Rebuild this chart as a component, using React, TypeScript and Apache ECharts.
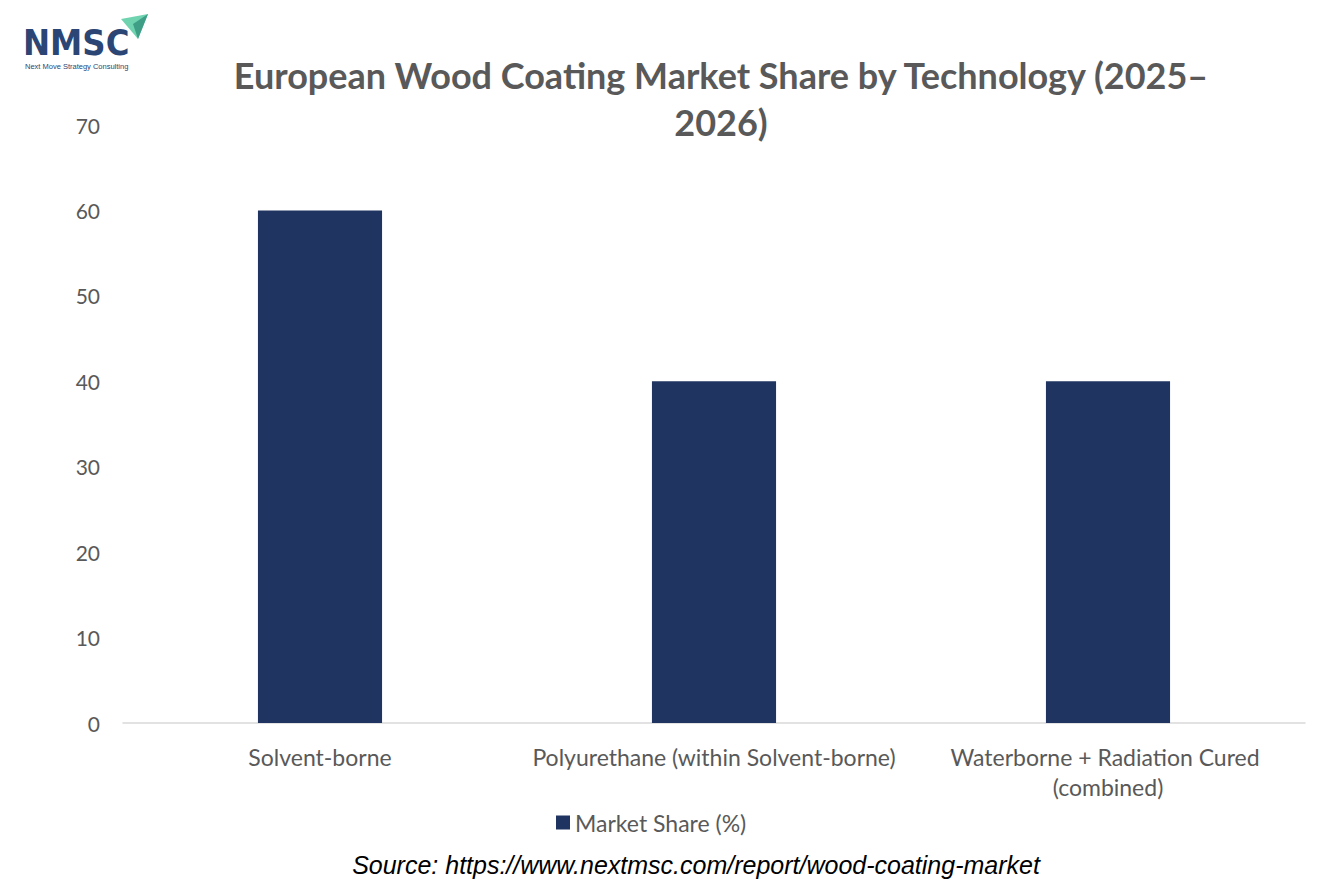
import React, { useEffect, useRef } from "react";
import * as echarts from "echarts";

const categories = [
  "Solvent-borne",
  "Polyurethane (within Solvent-borne)",
  "Waterborne + Radiation Cured (combined)",
];
const marketShare = [60, 40, 40];
const seriesName = "Market Share (%)";
const titleText = "European Wood Coating Market Share by Technology (2025–\n2026)";
const sourceText = "Source: https://www.nextmsc.com/report/wood-coating-market";

export default function App() {
  const ref = useRef<HTMLDivElement>(null);
  useEffect(() => {
    if (!ref.current) return;
    const chart = echarts.init(ref.current, null, { renderer: "svg" });
    const gray = "#595959";
    const font = "Lato, 'Open Sans', sans-serif";
    chart.setOption({
      animation: false,
      backgroundColor: "#ffffff",
      title: {
        text: titleText,
        left: 716,
        textAlign: "center",
        top: 46,
        textStyle: {
          fontFamily: font,
          fontWeight: "bold",
          fontSize: 36,
          color: gray,
          lineHeight: 47,
        },
      },
      grid: { left: 123, right: 29, top: 125, bottom: 166, containLabel: false },
      legend: {
        data: [seriesName],
        left: 551,
        top: 806,
        icon: "rect",
        itemWidth: 14,
        itemHeight: 14,
        itemGap: 6,
        textStyle: { fontFamily: font, fontSize: 23, color: gray },
      },
      xAxis: {
        type: "category",
        data: categories,
        axisLine: { show: true, lineStyle: { color: "#d9d9d9", width: 1.5 } },
        axisTick: { show: false },
        axisLabel: {
          interval: 0,
          margin: 19,
          fontFamily: font,
          fontSize: 23,
          color: gray,
          lineHeight: 30,
          width: 390,
          overflow: "break",
        },
      },
      yAxis: {
        type: "value",
        min: 0,
        max: 70,
        interval: 10,
        splitLine: { show: false },
        axisLine: { show: false },
        axisTick: { show: false },
        axisLabel: { margin: 23, fontFamily: font, fontSize: 21, color: gray },
      },
      series: [
        {
          name: seriesName,
          type: "bar",
          data: marketShare,
          barWidth: "31.5%",
          itemStyle: { color: "#1f3461" },
        },
      ],
      graphic: [
        {
          type: "text",
          x: 696,
          y: 852,
          style: {
            text: sourceText,
            textAlign: "center",
            fontFamily: "'Liberation Sans', Arial, sans-serif",
            fontStyle: "italic",
            fontSize: 25,
            fill: "#000000",
          },
        },
        {
          type: "text",
          x: 23,
          y: 24,
          style: {
            text: "NMSC",
            fontFamily: "'DejaVu Sans Condensed', 'DejaVu Sans', sans-serif",
            fontWeight: "bold",
            fontSize: 36,
            fill: "#2b4675",
          },
        },
        {
          type: "text",
          x: 25,
          y: 62,
          style: {
            text: "Next Move Strategy Consulting",
            fontFamily: "'Liberation Sans', sans-serif",
            fontSize: 7.5,
            fill: "#2b4675",
          },
        },
        {
          type: "polygon",
          shape: { points: [[121, 19], [148, 14], [138, 39]] },
          style: { fill: "#6fd3b0" },
        },
        {
          type: "polygon",
          shape: { points: [[133, 24], [148, 14], [138, 39]] },
          style: { fill: "#3f9f86" },
        },
      ],
    });
    return () => chart.dispose();
  }, []);
  return (
    <div
      ref={ref}
      style={{ position: "fixed", left: 0, top: 0, width: 1334, height: 889 }}
    />
  );
}
